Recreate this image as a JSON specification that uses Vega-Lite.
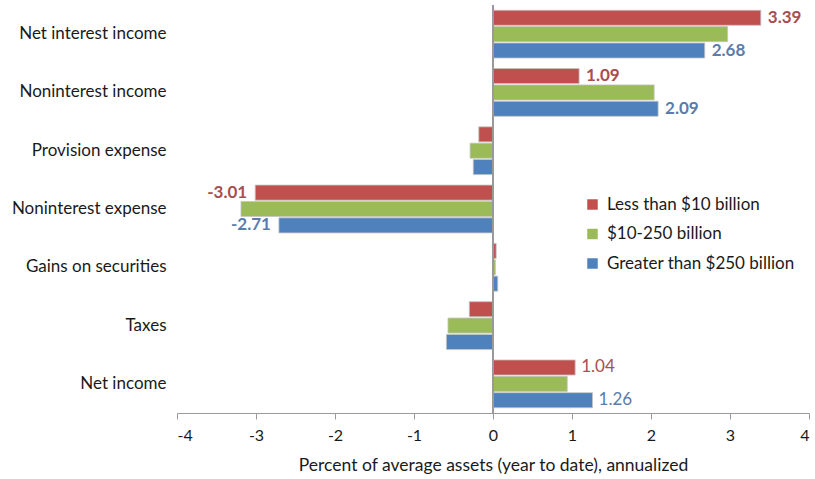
{
  "$schema": "https://vega.github.io/schema/vega-lite/v6.json",
  "width": 632,
  "height": 408,
  "autosize": {"type": "none"},
  "padding": {"left": 177, "top": 5, "right": 6, "bottom": 66},
  "background": "white",
  "config": {
    "font": "Lato",
    "view": {"stroke": null}
  },
  "data": {
    "values": [
      {"category": "Net interest income", "series": "Less than $10 billion", "value": 3.39, "label": "3.39"},
      {"category": "Net interest income", "series": "$10-250 billion", "value": 2.97, "label": null},
      {"category": "Net interest income", "series": "Greater than $250 billion", "value": 2.68, "label": "2.68"},
      {"category": "Noninterest income", "series": "Less than $10 billion", "value": 1.09, "label": "1.09"},
      {"category": "Noninterest income", "series": "$10-250 billion", "value": 2.04, "label": null},
      {"category": "Noninterest income", "series": "Greater than $250 billion", "value": 2.09, "label": "2.09"},
      {"category": "Provision expense", "series": "Less than $10 billion", "value": -0.18, "label": null},
      {"category": "Provision expense", "series": "$10-250 billion", "value": -0.29, "label": null},
      {"category": "Provision expense", "series": "Greater than $250 billion", "value": -0.25, "label": null},
      {"category": "Noninterest expense", "series": "Less than $10 billion", "value": -3.01, "label": "-3.01"},
      {"category": "Noninterest expense", "series": "$10-250 billion", "value": -3.19, "label": null},
      {"category": "Noninterest expense", "series": "Greater than $250 billion", "value": -2.71, "label": "-2.71"},
      {"category": "Gains on securities", "series": "Less than $10 billion", "value": 0.04, "label": null},
      {"category": "Gains on securities", "series": "$10-250 billion", "value": 0.03, "label": null},
      {"category": "Gains on securities", "series": "Greater than $250 billion", "value": 0.06, "label": null},
      {"category": "Taxes", "series": "Less than $10 billion", "value": -0.3, "label": null},
      {"category": "Taxes", "series": "$10-250 billion", "value": -0.57, "label": null},
      {"category": "Taxes", "series": "Greater than $250 billion", "value": -0.59, "label": null},
      {"category": "Net income", "series": "Less than $10 billion", "value": 1.04, "label": "1.04"},
      {"category": "Net income", "series": "$10-250 billion", "value": 0.94, "label": null},
      {"category": "Net income", "series": "Greater than $250 billion", "value": 1.26, "label": "1.26"}
    ]
  },
  "encoding": {
    "y": {
      "field": "category",
      "type": "nominal",
      "sort": ["Net interest income", "Noninterest income", "Provision expense", "Noninterest expense", "Gains on securities", "Taxes", "Net income"],
      "scale": {"paddingInner": 0.18, "paddingOuter": 0.09},
      "axis": {
        "title": null,
        "domain": false,
        "ticks": false,
        "labelFontSize": 17,
        "labelColor": "#1a1a1a",
        "labelPadding": 11,
        "labelLimit": 300,
        "labelFont": "Lato"
      }
    },
    "yOffset": {
      "field": "series",
      "type": "nominal",
      "sort": ["Less than $10 billion", "$10-250 billion", "Greater than $250 billion"],
      "scale": {"paddingInner": 0.08}
    }
  },
  "layer": [
    {
      "mark": {"type": "bar", "stroke": "#c4c4c4", "strokeWidth": 0.8},
      "encoding": {
        "x": {
          "field": "value",
          "type": "quantitative",
          "scale": {"domain": [-4, 4], "nice": false},
          "axis": {
            "title": "Percent of average assets (year to date), annualized",
            "titleFontSize": 17.5,
            "titleFontWeight": "normal",
            "titleColor": "#1a1a1a",
            "titlePadding": 13,
            "values": [-4, -3, -2, -1, 0, 1, 2, 3, 4],
            "labelExpr": "'' + datum.value",
            "grid": false,
            "domainColor": "#9a9a9a",
            "tickColor": "#9a9a9a",
            "tickSize": 6,
            "labelFontSize": 16,
            "labelColor": "#1a1a1a",
            "labelPadding": 8
          }
        },
        "color": {
          "field": "series",
          "type": "nominal",
          "sort": ["Less than $10 billion", "$10-250 billion", "Greater than $250 billion"],
          "scale": {
            "domain": ["Less than $10 billion", "$10-250 billion", "Greater than $250 billion"],
            "range": ["#C0504D", "#9BBB59", "#4F81BD"]
          },
          "legend": {
            "title": null,
            "orient": "none",
            "legendX": 407,
            "legendY": 191,
            "symbolType": "square",
            "symbolSize": 110,
            "symbolStrokeWidth": 0,
            "labelFontSize": 17,
            "labelLimit": 400,
            "labelColor": "#1a1a1a",
            "rowPadding": 11.5,
            "labelOffset": 6,
            "padding": 0
          }
        }
      }
    },
    {
      "mark": {"type": "rule", "color": "#9a9a9a", "strokeWidth": 1.2},
      "encoding": {"x": {"datum": 0}, "y": null, "yOffset": null}
    },
    {
      "transform": [{"filter": "datum.label != null && datum.value > 0 && datum.category != 'Net income'"}],
      "mark": {"type": "text", "align": "left", "baseline": "middle", "dx": 7, "fontSize": 17, "fontWeight": "bold"},
      "encoding": {
        "x": {"field": "value", "type": "quantitative"},
        "text": {"field": "label"},
        "color": {"condition": {"test": "datum.series == 'Less than $10 billion'", "value": "#a84e50"}, "value": "#5a7bab"}
      }
    },
    {
      "transform": [{"filter": "datum.label != null && datum.value > 0 && datum.category == 'Net income'"}],
      "mark": {"type": "text", "align": "left", "baseline": "middle", "dx": 6, "fontSize": 17},
      "encoding": {
        "x": {"field": "value", "type": "quantitative"},
        "text": {"field": "label"},
        "color": {"condition": {"test": "datum.series == 'Less than $10 billion'", "value": "#a84e50"}, "value": "#5a7bab"}
      }
    },
    {
      "transform": [{"filter": "datum.label != null && datum.value < 0"}],
      "mark": {"type": "text", "align": "right", "baseline": "middle", "dx": -8, "fontSize": 17, "fontWeight": "bold"},
      "encoding": {
        "x": {"field": "value", "type": "quantitative"},
        "text": {"field": "label"},
        "color": {"condition": {"test": "datum.series == 'Less than $10 billion'", "value": "#a84e50"}, "value": "#5a7bab"}
      }
    }
  ]
}
